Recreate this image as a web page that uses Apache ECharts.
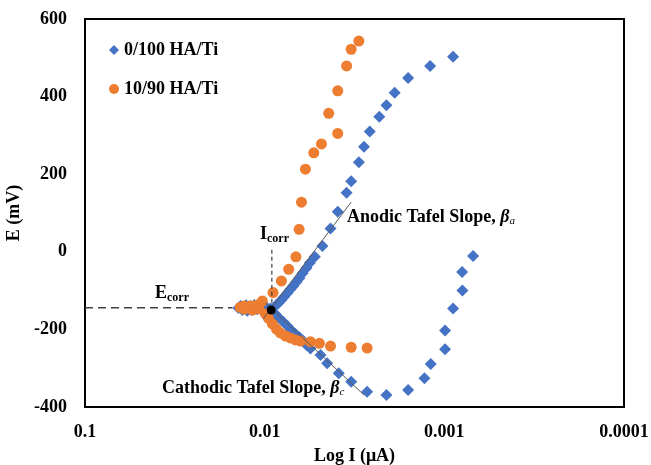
<!DOCTYPE html>
<html>
<head>
<meta charset="utf-8">
<script src="https://cdn.jsdelivr.net/npm/echarts@6/dist/echarts.min.js"></script>
<style>html,body{margin:0;padding:0;background:#fff}#c{width:651px;height:465px}</style>
</head>
<body>
<div id="c"></div>
<script>
// ---- data ----
const seriesNames = ['0/100 HA/Ti', '10/90 HA/Ti'];
const xTickLabels = ['0.1', '0.01', '0.001', '0.0001'];
const yTickValues = [-400, -200, 0, 200, 400, 600];

// 0/100 HA/Ti : [current (uA), potential (mV)]
const blueI = [0.000894,0.00120,0.00159,0.00189,0.00210,0.00230,0.00260,0.00280,0.00299,0.00330,0.00350,0.00392,0.00430,0.00477,0.00526,0.00560,0.00585,0.00615,0.00641,0.00665,0.00692,0.00720,0.00747,0.00777,0.00807,0.00835,0.00861,
  0.00929,0.00978,0.0103,0.0106,0.0110,0.0114,0.0118,0.0120,0.0125,0.0127,0.0133,0.0136,0.0140,
  0.00872,0.00828,0.00786,0.00747,0.00710,0.00674,0.00641,0.00609,0.00585,0.00556,0.00489,0.00449,0.00387,0.00330,0.00269,0.00210,
  0.00159,0.00129,0.00119,0.000991,0.000991,0.000894,0.000793,0.000796,0.000692];
const blueE = [503,479,448,410,378,348,310,271,231,182,152,103,60,15,-13,-28,-42,-55,-68,-78,-88,-97,-106,-115,-124,-131,-137,
  -146,-143,-145,-140,-148,-137,-150,-140,-152,-138,-150,-140,-145,
  -160,-171,-181,-191,-202,-212,-220,-230,-240,-249,-266,-287,-313,-335,-361,-369,
  -356,-326,-289,-251,-203,-146,-100,-52,-11];

// 10/90 HA/Ti
const orangeI = [0.00299,0.00330,0.00350,0.00392,0.00440,0.00392,0.00483,0.00533,0.00593,0.00624,0.00643,0.00670,0.00735,0.00807,0.00898,
  0.0103,0.0110,0.0120,0.0130,0.0137,0.0130,0.0117,0.0108,0.0099,0.00954,0.00906,0.0086,0.00818,0.00766,0.00719,0.00674,0.00632,
  0.00556,0.00496,0.0043,0.0033,0.00269];
const orangeE = [543,522,479,415,357,305,278,255,213,128,58,-13,-45,-75,-105,
  -127,-137,-140,-140,-143,-148,-150,-147,-160,-171,-186,-199,-209,-217,-222,-227,-230,
  -232,-236,-243,-246,-248];

// annotation lines (data coords)
const anodicLineI = [0.0102, 0.0033];
const anodicLineE = [-173, 128];
const cathodicLineI = [0.0099, 0.0028];
const cathodicLineE = [-132, -369];
const ecorrLineI = [0.1, 0.0151];
const ecorrLineE = [-144, -144];
const icorrLineI = [0.00912, 0.00912];
const icorrLineE = [5, -137];
const corrPointI = [0.0092];
const corrPointE = [-150];

const zip = (a, b) => a.map((v, i) => [v, b[i]]);

const FONT = 'Liberation Serif';
const chart = echarts.init(document.getElementById('c'), null, {renderer: 'canvas'});
const lbl = {fontFamily: FONT, fontWeight: 'bold', fontSize: 18, color: '#000'};

chart.setOption({
  animation: false,
  backgroundColor: '#fff',
  grid: {left: 85, right: 27, top: 19, bottom: 58, outerBoundsMode: 'none', containLabel: false, show: true, borderColor: '#000', borderWidth: 2, backgroundColor: 'transparent'},
  legend: {
    data: seriesNames,
    orient: 'vertical', left: 104, top: 35, itemGap: 19,
    itemWidth: 10, itemHeight: 10,
    textStyle: Object.assign({}, lbl, {lineHeight: 20})
  },
  xAxis: {
    type: 'log', logBase: 10, inverse: true, min: 0.0001, max: 0.1,
    name: 'Log I (μA)', nameLocation: 'middle', nameGap: 40, nameTextStyle: lbl,
    axisLine: {onZero: false, lineStyle: {color: '#000', width: 2}},
    axisTick: {show: false}, splitLine: {show: false}, minorTick: {show: false},
    axisLabel: Object.assign({}, lbl, {margin: 16, formatter: v => xTickLabels[Math.round(-Math.log10(v)) - 1]})
  },
  yAxis: {
    type: 'value', min: yTickValues[0], max: yTickValues[yTickValues.length - 1], interval: 200,
    name: 'E (mV)', nameLocation: 'middle', nameGap: 50, nameTextStyle: lbl,
    axisLine: {show: true, lineStyle: {color: '#000', width: 2}},
    axisTick: {show: false}, splitLine: {show: false},
    axisLabel: Object.assign({}, lbl, {margin: 18})
  },
  series: [
    {name: seriesNames[0], type: 'scatter', symbol: 'diamond', symbolSize: 12, itemStyle: {color: '#4472C4', opacity: 1}, data: zip(blueI, blueE), z: 2},
    {name: seriesNames[1], type: 'scatter', symbol: 'circle', symbolSize: 11, itemStyle: {color: '#ED7D31', opacity: 1}, data: zip(orangeI, orangeE), z: 3},
    {type: 'line', data: zip(anodicLineI, anodicLineE), symbol: 'none', lineStyle: {color: '#595959', width: 1}, z: 4, silent: true},
    {type: 'line', data: zip(cathodicLineI, cathodicLineE), symbol: 'none', lineStyle: {color: '#595959', width: 1}, z: 4, silent: true},
    {type: 'line', data: zip(ecorrLineI, ecorrLineE), symbol: 'none', lineStyle: {color: '#404040', width: 1.5, type: [8, 5]}, z: 4, silent: true},
    {type: 'line', data: zip(icorrLineI, icorrLineE), symbol: 'none', lineStyle: {color: '#404040', width: 1.2, type: [4, 3]}, z: 4, silent: true},
    {type: 'scatter', data: zip(corrPointI, corrPointE), symbol: 'circle', symbolSize: 9, itemStyle: {color: '#000', opacity: 1}, z: 5, silent: true}
  ],
  graphic: [
    {type: 'text', x: 155, y: 293, z: 10, style: {text: '{b|E}{s|corr}', verticalAlign: 'middle', rich: {
      b: {fontFamily: FONT, fontWeight: 'bold', fontSize: 18, color: '#000', verticalAlign: 'bottom'},
      s: {fontFamily: FONT, fontWeight: 'bold', fontSize: 12, color: '#000', verticalAlign: 'bottom', padding: [0,0,-2,0]}}}},
    {type: 'text', x: 260, y: 234, z: 10, style: {text: '{b|I}{s|corr}', verticalAlign: 'middle', rich: {
      b: {fontFamily: FONT, fontWeight: 'bold', fontSize: 18, color: '#000', verticalAlign: 'bottom'},
      s: {fontFamily: FONT, fontWeight: 'bold', fontSize: 12, color: '#000', verticalAlign: 'bottom', padding: [0,0,-2,0]}}}},
    {type: 'text', x: 347, y: 217, z: 10, style: {text: '{b|Anodic Tafel Slope, }{g|β}{s|a}', verticalAlign: 'middle', rich: {
      b: {fontFamily: FONT, fontWeight: 'bold', fontSize: 18, color: '#000', verticalAlign: 'bottom'},
      g: {fontFamily: FONT, fontWeight: 'bold', fontStyle: 'italic', fontSize: 18, color: '#000', verticalAlign: 'bottom'},
      s: {fontFamily: FONT, fontStyle: 'italic', fontSize: 11, color: '#000', verticalAlign: 'bottom', padding: [0,0,-1,0]}}}},
    {type: 'text', x: 162, y: 388, z: 10, style: {text: '{b|Cathodic Tafel Slope, }{g|β}{s|c}', verticalAlign: 'middle', rich: {
      b: {fontFamily: FONT, fontWeight: 'bold', fontSize: 18, color: '#000', verticalAlign: 'bottom'},
      g: {fontFamily: FONT, fontWeight: 'bold', fontStyle: 'italic', fontSize: 18, color: '#000', verticalAlign: 'bottom'},
      s: {fontFamily: FONT, fontStyle: 'italic', fontSize: 11, color: '#000', verticalAlign: 'bottom', padding: [0,0,-1,0]}}}}
  ]
});
</script>
</body>
</html>
